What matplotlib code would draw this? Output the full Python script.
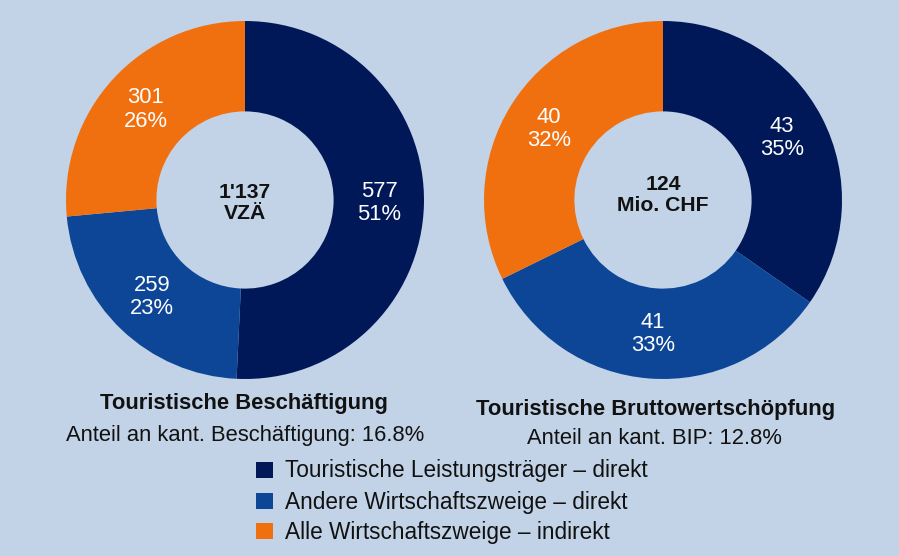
import matplotlib
matplotlib.use("Agg")
import matplotlib.pyplot as plt
from matplotlib.patches import Rectangle

plt.rcParams['font.family'] = ['Liberation Sans', 'DejaVu Sans']

categories = ["Touristische Leistungsträger – direkt",
              "Andere Wirtschaftszweige – direkt",
              "Alle Wirtschaftszweige – indirekt"]
colors = ["#001858", "#0D4696", "#F07010"]

emp_values = [577, 259, 301]
emp_pct = [51, 23, 26]
emp_center = "1'137\nVZÄ"
emp_title = "Touristische Beschäftigung"
emp_sub = "Anteil an kant. Beschäftigung: 16.8%"

gva_values = [43, 41, 40]
gva_pct = [35, 33, 32]
gva_center = "124\nMio. CHF"
gva_title = "Touristische Bruttowertschöpfung"
gva_sub = "Anteil an kant. BIP: 12.8%"

W, H = 899, 556
bg = "#C2D3E7"
FS = 15.8
fig = plt.figure(figsize=(W/100, H/100), dpi=100, facecolor=bg)

def donut(cx, cy, r, values, pct, center, cdy):
    ax = fig.add_axes([(cx - r)/W, (H - cy - r)/H, 2*r/W, 2*r/H])
    ax.set_facecolor(bg)
    labels = [f"{v}\n{p}%" for v, p in zip(values, pct)]
    wedges, texts = ax.pie(values, colors=colors, startangle=90, counterclock=False,
                           radius=1.0, wedgeprops=dict(width=0.505, linewidth=0),
                           labels=labels, labeldistance=0.75,
                           textprops=dict(color="white", fontsize=FS, ha="center",
                                          va="center", linespacing=1.15))
    for t in texts:
        t.set_ha("center"); t.set_va("center")
    ax.text(0, cdy, center, ha="center", va="center", fontsize=15.2, fontweight="bold",
            color="#111111", linespacing=1.12)
    ax.set_xlim(-1, 1); ax.set_ylim(-1, 1)
    ax.set_aspect("equal")
    ax.axis("off")
    return ax

donut(245, 200, 179, emp_values, emp_pct, emp_center, -0.015)
donut(663, 200, 179, gva_values, gva_pct, gva_center, 0.03)

def ftext(x, y, s, **kw):
    fig.text(x/W, 1 - y/H, s, **kw)

ftext(244, 404, emp_title, ha="center", va="center", fontsize=FS, fontweight="bold", color="#111111")
ftext(245, 435, emp_sub, ha="center", va="center", fontsize=FS, color="#111111")
ftext(656, 409, gva_title, ha="center", va="center", fontsize=FS, fontweight="bold", color="#111111")
ftext(654, 438, gva_sub, ha="center", va="center", fontsize=FS, color="#111111")

leg_y = [470, 501, 531]
for c, lab, y in zip(colors, categories, leg_y):
    fig.patches.append(Rectangle((256/W, 1 - (y + 8)/H), 17/W, 16/H,
                                 transform=fig.transFigure, facecolor=c, edgecolor="none"))
    ftext(285, y + 1, lab, ha="left", va="center", fontsize=16.3, color="#111111")

fig.savefig("out.png", dpi=100, facecolor=bg)
